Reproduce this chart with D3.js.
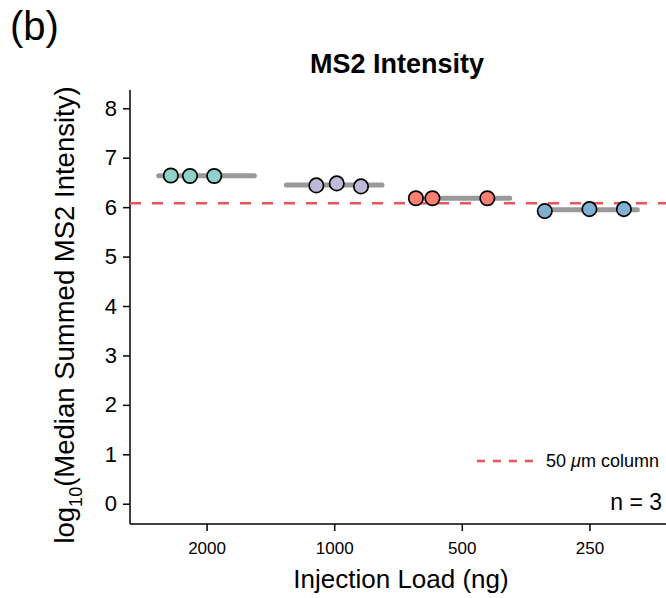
<!DOCTYPE html>
<html lang="en">
<head>
  <meta charset="utf-8">
  <title>MS2 Intensity</title>
  <script src="https://d3js.org/d3.v7.min.js"></script>
  <style>
  body { margin: 0; background: #fff; }
  svg { font-family: "Liberation Sans", Arial, Helvetica, sans-serif; }
  </style>
</head>
<body>
  <script>
  // data
  var categories = ["2000", "1000", "500", "250"];
  var values = [
    [6.64, 6.63, 6.63],
    [6.44, 6.48, 6.42],
    [6.18, 6.18, 6.18],
    [5.92, 5.96, 5.96]
  ];
  // horizontal jitter of each replicate, in category-step units
  var jitter = [
    [-0.28, -0.13, 0.06],
    [-0.14, 0.02, 0.21],
    [-0.36, -0.23, 0.20],
    [-0.35, 0.00, 0.27]
  ];
  var colors = ["#8DD3C7", "#BEBADA", "#FB8072", "#80B1D3"];
  var yTicks = [0, 1, 2, 3, 4, 5, 6, 7, 8];
  var refLine = 6.08;

  var width = 666, height = 598;
  var pLeft = 130, pRight = 666, pTop = 90, pBottom = 524;

  var svg = d3.select("body").append("svg")
    .attr("width", width)
    .attr("height", height);

  var x = d3.scalePoint()
    .domain(categories)
    .range([pLeft, pRight])
    .padding(0.6);

  var y = d3.scaleLinear()
    .domain([-0.41, 8.37])
    .range([pBottom, pTop]);

  // axes
  var yAxis = svg.append("g")
    .attr("transform", "translate(" + pLeft + ",0)")
    .call(d3.axisLeft(y).tickValues(yTicks).tickSize(7).tickPadding(6).tickSizeOuter(0));
  yAxis.select(".domain").remove();
  yAxis.selectAll(".tick line").attr("stroke", "#000").attr("stroke-width", 1.5);
  yAxis.selectAll(".tick text").attr("font-size", 22).attr("fill", "#000");

  var xAxis = svg.append("g")
    .attr("transform", "translate(0," + pBottom + ")")
    .call(d3.axisBottom(x).tickSize(7).tickPadding(11).tickSizeOuter(0));
  xAxis.select(".domain").remove();
  xAxis.selectAll(".tick line").attr("stroke", "#000").attr("stroke-width", 1.5);
  xAxis.selectAll(".tick text").attr("font-size", 17).attr("fill", "#000");

  svg.append("line")
    .attr("x1", pLeft).attr("x2", pLeft)
    .attr("y1", pTop).attr("y2", pBottom)
    .attr("stroke", "#000").attr("stroke-width", 1.5);
  svg.append("line")
    .attr("x1", pLeft).attr("x2", pRight)
    .attr("y1", pBottom).attr("y2", pBottom)
    .attr("stroke", "#000").attr("stroke-width", 1.5);

  // reference line
  svg.append("line")
    .attr("x1", pLeft).attr("x2", pRight)
    .attr("y1", y(refLine)).attr("y2", y(refLine))
    .attr("stroke", "#E8555A")
    .attr("stroke-width", 2.5)
    .attr("stroke-dasharray", "11,11");

  // mean bars
  var step = x.step();
  svg.selectAll(".bar")
    .data(categories)
    .enter().append("line")
    .attr("class", "bar")
    .attr("x1", function(d) { return x(d) - step * 0.375; })
    .attr("x2", function(d) { return x(d) + step * 0.375; })
    .attr("y1", function(d, i) { return y(d3.mean(values[i])); })
    .attr("y2", function(d, i) { return y(d3.mean(values[i])); })
    .attr("stroke", "#999999")
    .attr("stroke-width", 5)
    .attr("stroke-linecap", "round");

  // points
  var pts = [];
  categories.forEach(function(c, i) {
    values[i].forEach(function(v, j) {
      pts.push({cat: c, v: v, jit: jitter[i][j], color: colors[i]});
    });
  });
  svg.selectAll(".pt")
    .data(pts)
    .enter().append("circle")
    .attr("class", "pt")
    .attr("cx", function(d) { return x(d.cat) + d.jit * step; })
    .attr("cy", function(d) { return y(d.v); })
    .attr("r", 7.2)
    .attr("fill", function(d) { return d.color; })
    .attr("stroke", "#000")
    .attr("stroke-width", 1.7);

  // legend
  svg.append("line")
    .attr("x1", 477).attr("x2", 533)
    .attr("y1", 461).attr("y2", 461)
    .attr("stroke", "#E8555A")
    .attr("stroke-width", 2.5)
    .attr("stroke-dasharray", "8,8");
  var leg = svg.append("text")
    .attr("x", 546).attr("y", 467)
    .attr("font-size", 18);
  leg.append("tspan").text("50 ");
  leg.append("tspan").attr("font-style", "italic").text("\u03bc");
  leg.append("tspan").text("m column");

  svg.append("text")
    .attr("x", 662).attr("y", 510)
    .attr("text-anchor", "end")
    .attr("font-size", 23)
    .text("n = 3");

  // titles
  svg.append("text")
    .attr("x", 10).attr("y", 40)
    .attr("font-size", 40)
    .text("(b)");

  svg.append("text")
    .attr("x", 397).attr("y", 73)
    .attr("text-anchor", "middle")
    .attr("font-size", 27)
    .attr("font-weight", "bold")
    .text("MS2 Intensity");

  svg.append("text")
    .attr("x", 401).attr("y", 588)
    .attr("text-anchor", "middle")
    .attr("font-size", 26)
    .text("Injection Load (ng)");

  var yl = svg.append("text")
    .attr("transform", "translate(74,315) rotate(-90)")
    .attr("text-anchor", "middle")
    .attr("font-size", 27.5);
  yl.append("tspan").text("log");
  yl.append("tspan").attr("font-size", 18).attr("dy", 8).text("10");
  yl.append("tspan").attr("dy", -8).text("(Median Summed MS2 Intensity)");
  </script>
</body>
</html>
